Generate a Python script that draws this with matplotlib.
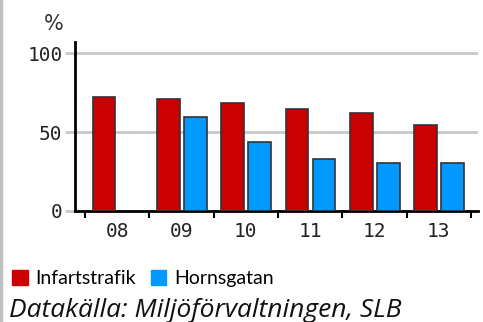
import matplotlib
matplotlib.use("Agg")
import matplotlib.pyplot as plt
import numpy as np
from matplotlib.patches import Rectangle
from matplotlib.lines import Line2D

years = ["08", "09", "10", "11", "12", "13"]
infart = [72, 71, 68.5, 64.5, 62, 54.5]
horns = [np.nan, 59.5, 43.5, 33, 30.5, 30.5]
series_names = ["Infartstrafik", "Hornsgatan"]
colors = ["#cc0000", "#0099ff"]
yticks = [0, 50, 100]
ylabel = "%"
source = "Datakälla: Miljöförvaltningen, SLB"

fig = plt.figure(figsize=(4.83, 3.22), dpi=100)
ax = fig.add_axes([75/483, 1-211/322, (478-75)/483, (211-42)/322])

x = np.arange(len(years))
w = 0.355
ax.bar(x - 0.205, infart, w, color=colors[0], edgecolor="#333333", linewidth=1.2, zorder=3)
ax.bar(x + 0.215, horns, w, color=colors[1], edgecolor="#333333", linewidth=1.2, zorder=3)

tickfont = {"family": "DejaVu Sans Mono", "size": 14}
ax.set_xlim(-0.5 - 10/64, 5.5 + 7/64)
ax.set_ylim(0, 107)
ax.set_yticks(yticks)
ax.set_yticklabels([str(v) for v in yticks], color="#222222", **tickfont)
for v in yticks[1:]:
    ax.axhline(v, color="#c8c8c8", linewidth=2, zorder=1)
ax.tick_params(axis="y", length=7, width=2, color="#c8c8c8", pad=2)

ax.set_xticks(x)
ax.set_xticklabels(years, color="#222222", **tickfont)
ax.tick_params(axis="x", length=0, pad=8)
ax.set_xticks(np.arange(-0.5, len(years)), minor=True)
ax.tick_params(axis="x", which="minor", length=5, width=1.5, color="black")

for s in ["top", "right"]:
    ax.spines[s].set_visible(False)
ax.spines["left"].set_linewidth(2)
ax.spines["bottom"].set_linewidth(2)

fig.text(54/483, 1-24/322, ylabel, fontsize=15, color="#333333", ha="center", va="center")

handles = [Rectangle((0, 0), 1, 1, color=c) for c in colors]
fig.legend(handles, series_names, loc="lower left", bbox_to_anchor=(12/483, 1-287/322),
           frameon=False, handlelength=0.8, handleheight=0.8, handletextpad=0.4,
           columnspacing=0.75, ncol=2, borderpad=0, borderaxespad=0,
           prop={"family": "Lato", "size": 14})

fig.text(9/483, 1-317/322, source, fontsize=19, style="italic", family="Open Sans",
         ha="left", va="baseline", color="#111111")

fig.add_artist(Line2D([1/483, 1/483], [0, 1], color="#c0c0c0", linewidth=2.5, transform=fig.transFigure))

fig.savefig("out.png", dpi=100)
